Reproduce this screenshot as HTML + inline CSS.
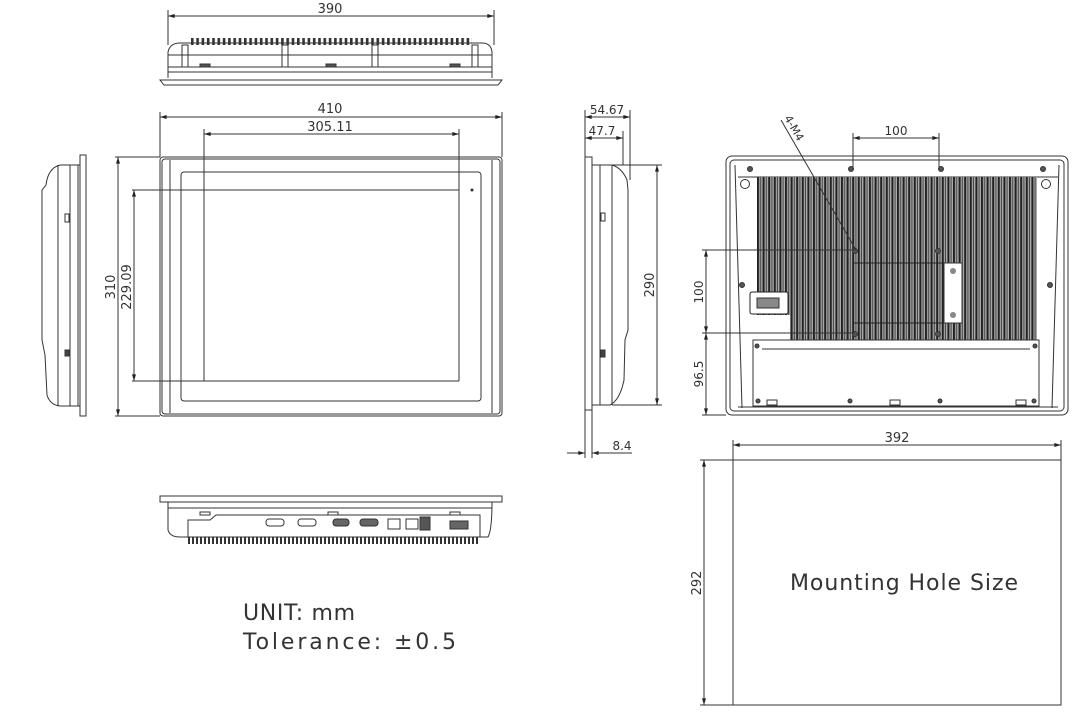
<!DOCTYPE html>
<html><head><meta charset="utf-8"><style>
html,body{margin:0;padding:0;background:#fff;width:1078px;height:718px;overflow:hidden}
svg{display:block}
text{font-family:"DejaVu Sans","Liberation Sans",sans-serif;fill:#333}
</style></head><body>
<svg width="1078" height="718" viewBox="0 0 1078 718" xmlns="http://www.w3.org/2000/svg">
<defs>
<marker id="a" viewBox="0 0 10 6" refX="10" refY="3" markerWidth="8" markerHeight="4" orient="auto-start-reverse"><path d="M0,0L10,3L0,6z" fill="#222"/></marker>
<pattern id="fins" x="757" y="0" width="5.6" height="10" patternUnits="userSpaceOnUse"><rect width="5.6" height="10" fill="#aaa"/><rect x="0" width="2" height="10" fill="#222"/><rect x="3.2" width="1" height="10" fill="#444"/></pattern>
<pattern id="tfin" x="191" y="0" width="5.3" height="10" patternUnits="userSpaceOnUse"><rect x="0" width="2.6" height="10" fill="#333"/></pattern>
<pattern id="bfin" x="188" y="0" width="4" height="10" patternUnits="userSpaceOnUse"><rect x="0" width="2" height="10" fill="#333"/></pattern>
</defs>
<g fill="none" stroke="#333" stroke-width="1">
<!-- TOP VIEW -->
<line x1="168" y1="16" x2="494" y2="16" marker-start="url(#a)" marker-end="url(#a)"/>
<line x1="168" y1="10" x2="168" y2="45"/><line x1="494" y1="10" x2="494" y2="45"/>
<rect x="191" y="38" width="281" height="7" fill="url(#tfin)" stroke="none"/>
<path d="M168,78 L168,52 Q170,43 180,43 L482,43 Q491,43 492,52 L492,78"/>
<line x1="168" y1="55" x2="492" y2="55"/><line x1="168" y1="67" x2="492" y2="67"/><line x1="168" y1="72" x2="492" y2="72"/>
<rect x="182" y="45" width="6" height="22"/><rect x="282" y="45" width="6" height="22"/><rect x="372" y="45" width="6" height="22"/><rect x="472" y="45" width="6" height="22"/>
<rect x="200" y="64" width="10" height="3" fill="#555"/><rect x="326" y="64" width="10" height="3" fill="#555"/><rect x="450" y="64" width="10" height="3" fill="#555"/>
<path d="M160,80 L502,80 L498,85 L164,85 Z"/>
<!-- FRONT VIEW -->
<line x1="160" y1="117" x2="502" y2="117" marker-start="url(#a)" marker-end="url(#a)"/>
<line x1="160" y1="112" x2="160" y2="157"/><line x1="502" y1="112" x2="502" y2="157"/>
<line x1="204" y1="134" x2="459" y2="134" marker-start="url(#a)" marker-end="url(#a)"/>
<line x1="204" y1="129" x2="204" y2="381"/><line x1="459" y1="129" x2="459" y2="381"/>
<rect x="160" y="157" width="342" height="259" rx="3"/>
<rect x="162" y="159" width="338" height="255" rx="3"/>
<line x1="170" y1="160" x2="170" y2="413"/><line x1="492" y1="160" x2="492" y2="413"/>
<rect x="181" y="172" width="300" height="229" rx="3"/>
<line x1="132" y1="190" x2="459" y2="190"/><line x1="132" y1="381" x2="459" y2="381"/>
<line x1="115" y1="157" x2="160" y2="157"/><line x1="115" y1="416" x2="160" y2="416"/>
<line x1="118" y1="157" x2="118" y2="416" marker-start="url(#a)" marker-end="url(#a)"/>
<line x1="134" y1="190" x2="134" y2="381" marker-start="url(#a)" marker-end="url(#a)"/>
<circle cx="472" cy="190" r="1" fill="#333"/>
<!-- LEFT SIDE VIEW -->
<path d="M80,165 L60,165 Q48,168 46,185 L42,190 L42,340 L45,355 L47,395 Q50,405 60,406 L80,406"/>
<line x1="58" y1="165" x2="58" y2="406"/><line x1="70" y1="165" x2="70" y2="406"/><line x1="78" y1="165" x2="78" y2="406"/>
<rect x="80" y="155" width="6" height="261"/>
<rect x="65" y="214" width="4" height="8"/><rect x="65" y="350" width="4" height="6" fill="#444"/>
<!-- RIGHT SIDE VIEW -->
<line x1="585" y1="117" x2="630" y2="117" marker-start="url(#a)" marker-end="url(#a)"/>
<line x1="585" y1="138" x2="623" y2="138" marker-start="url(#a)" marker-end="url(#a)"/>
<line x1="585" y1="110" x2="585" y2="458"/><line x1="592" y1="400" x2="592" y2="458"/>
<line x1="630" y1="110" x2="630" y2="180"/><line x1="623" y1="131" x2="623" y2="165"/>
<rect x="585" y="157" width="7" height="253"/>
<path d="M592,165 L612,165 Q622,168 627,180 L628,190 L628,330 L625,340 L624,380 Q620,400 610,405 L592,405"/>
<line x1="600" y1="165" x2="600" y2="405"/><line x1="612" y1="165" x2="612" y2="405"/>
<rect x="601" y="213" width="4" height="8"/><rect x="601" y="350" width="4" height="7" fill="#444"/>
<line x1="612" y1="165" x2="662" y2="165"/><line x1="612" y1="405" x2="662" y2="405"/>
<line x1="657" y1="165" x2="657" y2="405" marker-start="url(#a)" marker-end="url(#a)"/>
<line x1="567" y1="453" x2="585" y2="453" marker-end="url(#a)"/>
<line x1="612" y1="453" x2="592" y2="453" marker-end="url(#a)"/>
<line x1="592" y1="453" x2="632" y2="453"/>
<!-- BOTTOM VIEW -->
<path d="M160,496 L502,496 L502,502 L160,502 Z"/>
<path d="M168,502 L168,530 Q170,537 180,537 L488,537 Q492,530 492,502"/>
<line x1="168" y1="508" x2="492" y2="508"/>
<path d="M188,537 L188,520 L210,520 L216,515 L480,515 L480,537"/>
<rect x="188" y="537" width="292" height="7" fill="url(#bfin)" stroke="none"/>
<rect x="200" y="512" width="10" height="3"/><rect x="328" y="512" width="10" height="3"/><rect x="450" y="512" width="10" height="3"/>
<rect x="266" y="519" width="18" height="7" rx="3"/><rect x="298" y="519" width="18" height="7" rx="3"/>
<rect x="333" y="519" width="16" height="7" rx="3" fill="#666"/><rect x="360" y="519" width="18" height="7" rx="3" fill="#666"/>
<rect x="388" y="519" width="12" height="10"/><rect x="406" y="519" width="12" height="10"/><rect x="420" y="517" width="10" height="13" fill="#555"/>
<rect x="450" y="521" width="18" height="8" fill="#666"/>
<!-- BACK VIEW -->
<rect x="726" y="156" width="342" height="259" rx="6"/>
<rect x="730" y="160" width="334" height="251" rx="4"/>
<line x1="738" y1="177" x2="1058" y2="177"/>
<line x1="735" y1="165" x2="742" y2="408"/><line x1="1059" y1="165" x2="1052" y2="408"/>
<path d="M757,177 L1037,177 L1037,340 L790,340 L790,315 L757,315 Z" fill="url(#fins)" stroke="none"/>
<rect x="853" y="263" width="109" height="60" stroke="#222"/>
<rect x="944" y="263" width="18" height="60" fill="#fff"/>
<circle cx="953" cy="271" r="3" fill="#888" stroke="none"/><circle cx="953" cy="315" r="3" fill="#888" stroke="none"/>
<rect x="750" y="292" width="38" height="22" rx="2" fill="#fff" stroke="#222"/>
<rect x="757" y="298" width="22" height="10" fill="#888"/>
<rect x="753" y="340" width="286" height="66" fill="#fff"/>
<line x1="762" y1="349" x2="1030" y2="349"/>
<line x1="738" y1="407" x2="1058" y2="407"/>
<circle cx="745" cy="184" r="4.5"/><circle cx="1046" cy="184" r="4.5"/>
<g fill="#555"><circle cx="750" cy="169" r="2.5"/><circle cx="851" cy="169" r="2.5"/><circle cx="941" cy="169" r="2.5"/><circle cx="1043" cy="169" r="2.5"/>
<circle cx="855" cy="251" r="2.5"/><circle cx="938" cy="251" r="2.5"/><circle cx="855" cy="334" r="2.5"/><circle cx="938" cy="334" r="2.5"/>
<circle cx="742" cy="285" r="2.5"/><circle cx="1050" cy="285" r="2.5"/>
<circle cx="757" cy="346" r="2"/><circle cx="1035" cy="346" r="2"/><circle cx="758" cy="401" r="2"/><circle cx="850" cy="401" r="2"/><circle cx="940" cy="401" r="2"/><circle cx="1034" cy="401" r="2"/></g>
<rect x="767" y="400" width="10" height="5"/><rect x="890" y="400" width="10" height="5"/><rect x="1016" y="400" width="10" height="5"/>
<line x1="853" y1="133" x2="853" y2="170"/><line x1="939" y1="133" x2="939" y2="170"/>
<line x1="853" y1="138" x2="939" y2="138" marker-start="url(#a)" marker-end="url(#a)"/>
<line x1="781" y1="120" x2="856" y2="250"/>
<line x1="702" y1="250" x2="855" y2="250"/><line x1="702" y1="333" x2="855" y2="333"/><line x1="702" y1="415" x2="726" y2="415"/>
<line x1="706" y1="250" x2="706" y2="333" marker-start="url(#a)" marker-end="url(#a)"/>
<line x1="706" y1="333" x2="706" y2="415" marker-start="url(#a)" marker-end="url(#a)"/>
<!-- MOUNTING HOLE -->
<rect x="733" y="460" width="328" height="245"/>
<line x1="733" y1="440" x2="733" y2="460"/><line x1="1061" y1="440" x2="1061" y2="460"/>
<line x1="733" y1="445" x2="1061" y2="445" marker-start="url(#a)" marker-end="url(#a)"/>
<line x1="700" y1="460" x2="733" y2="460"/><line x1="700" y1="705" x2="733" y2="705"/>
<line x1="704" y1="460" x2="704" y2="705" marker-start="url(#a)" marker-end="url(#a)"/>
</g>
<g font-size="13">
<text x="330" y="13" text-anchor="middle">390</text>
<text x="330" y="113" text-anchor="middle">410</text>
<text x="330" y="131" text-anchor="middle">305.11</text>
<text transform="translate(115,287) rotate(-90)" text-anchor="middle">310</text>
<text transform="translate(131,287) rotate(-90)" text-anchor="middle">229.09</text>
<text x="607" y="114" text-anchor="middle" font-size="12">54.67</text>
<text x="602" y="135" text-anchor="middle" font-size="12">47.7</text>
<text transform="translate(654,285) rotate(-90)" text-anchor="middle">290</text>
<text x="622" y="450" text-anchor="middle" font-size="12">8.4</text>
<text x="896" y="135" text-anchor="middle" font-size="12">100</text>
<text transform="translate(784,118) rotate(60)" font-size="11">4-M4</text>
<text transform="translate(703,292) rotate(-90)" text-anchor="middle" font-size="12">100</text>
<text transform="translate(703,374) rotate(-90)" text-anchor="middle" font-size="12">96.5</text>
<text x="897" y="442" text-anchor="middle">392</text>
<text transform="translate(701,583) rotate(-90)" text-anchor="middle">292</text>
</g>
<text x="790" y="590" font-size="22" fill="#666" textLength="228" lengthAdjust="spacing">Mounting Hole Size</text>
<text x="243" y="620" font-size="22" fill="#666" textLength="112" lengthAdjust="spacing">UNIT: mm</text>
<text x="243" y="649" font-size="22" fill="#666" textLength="213" lengthAdjust="spacing">Tolerance: ±0.5</text>
</svg>
</body></html>
